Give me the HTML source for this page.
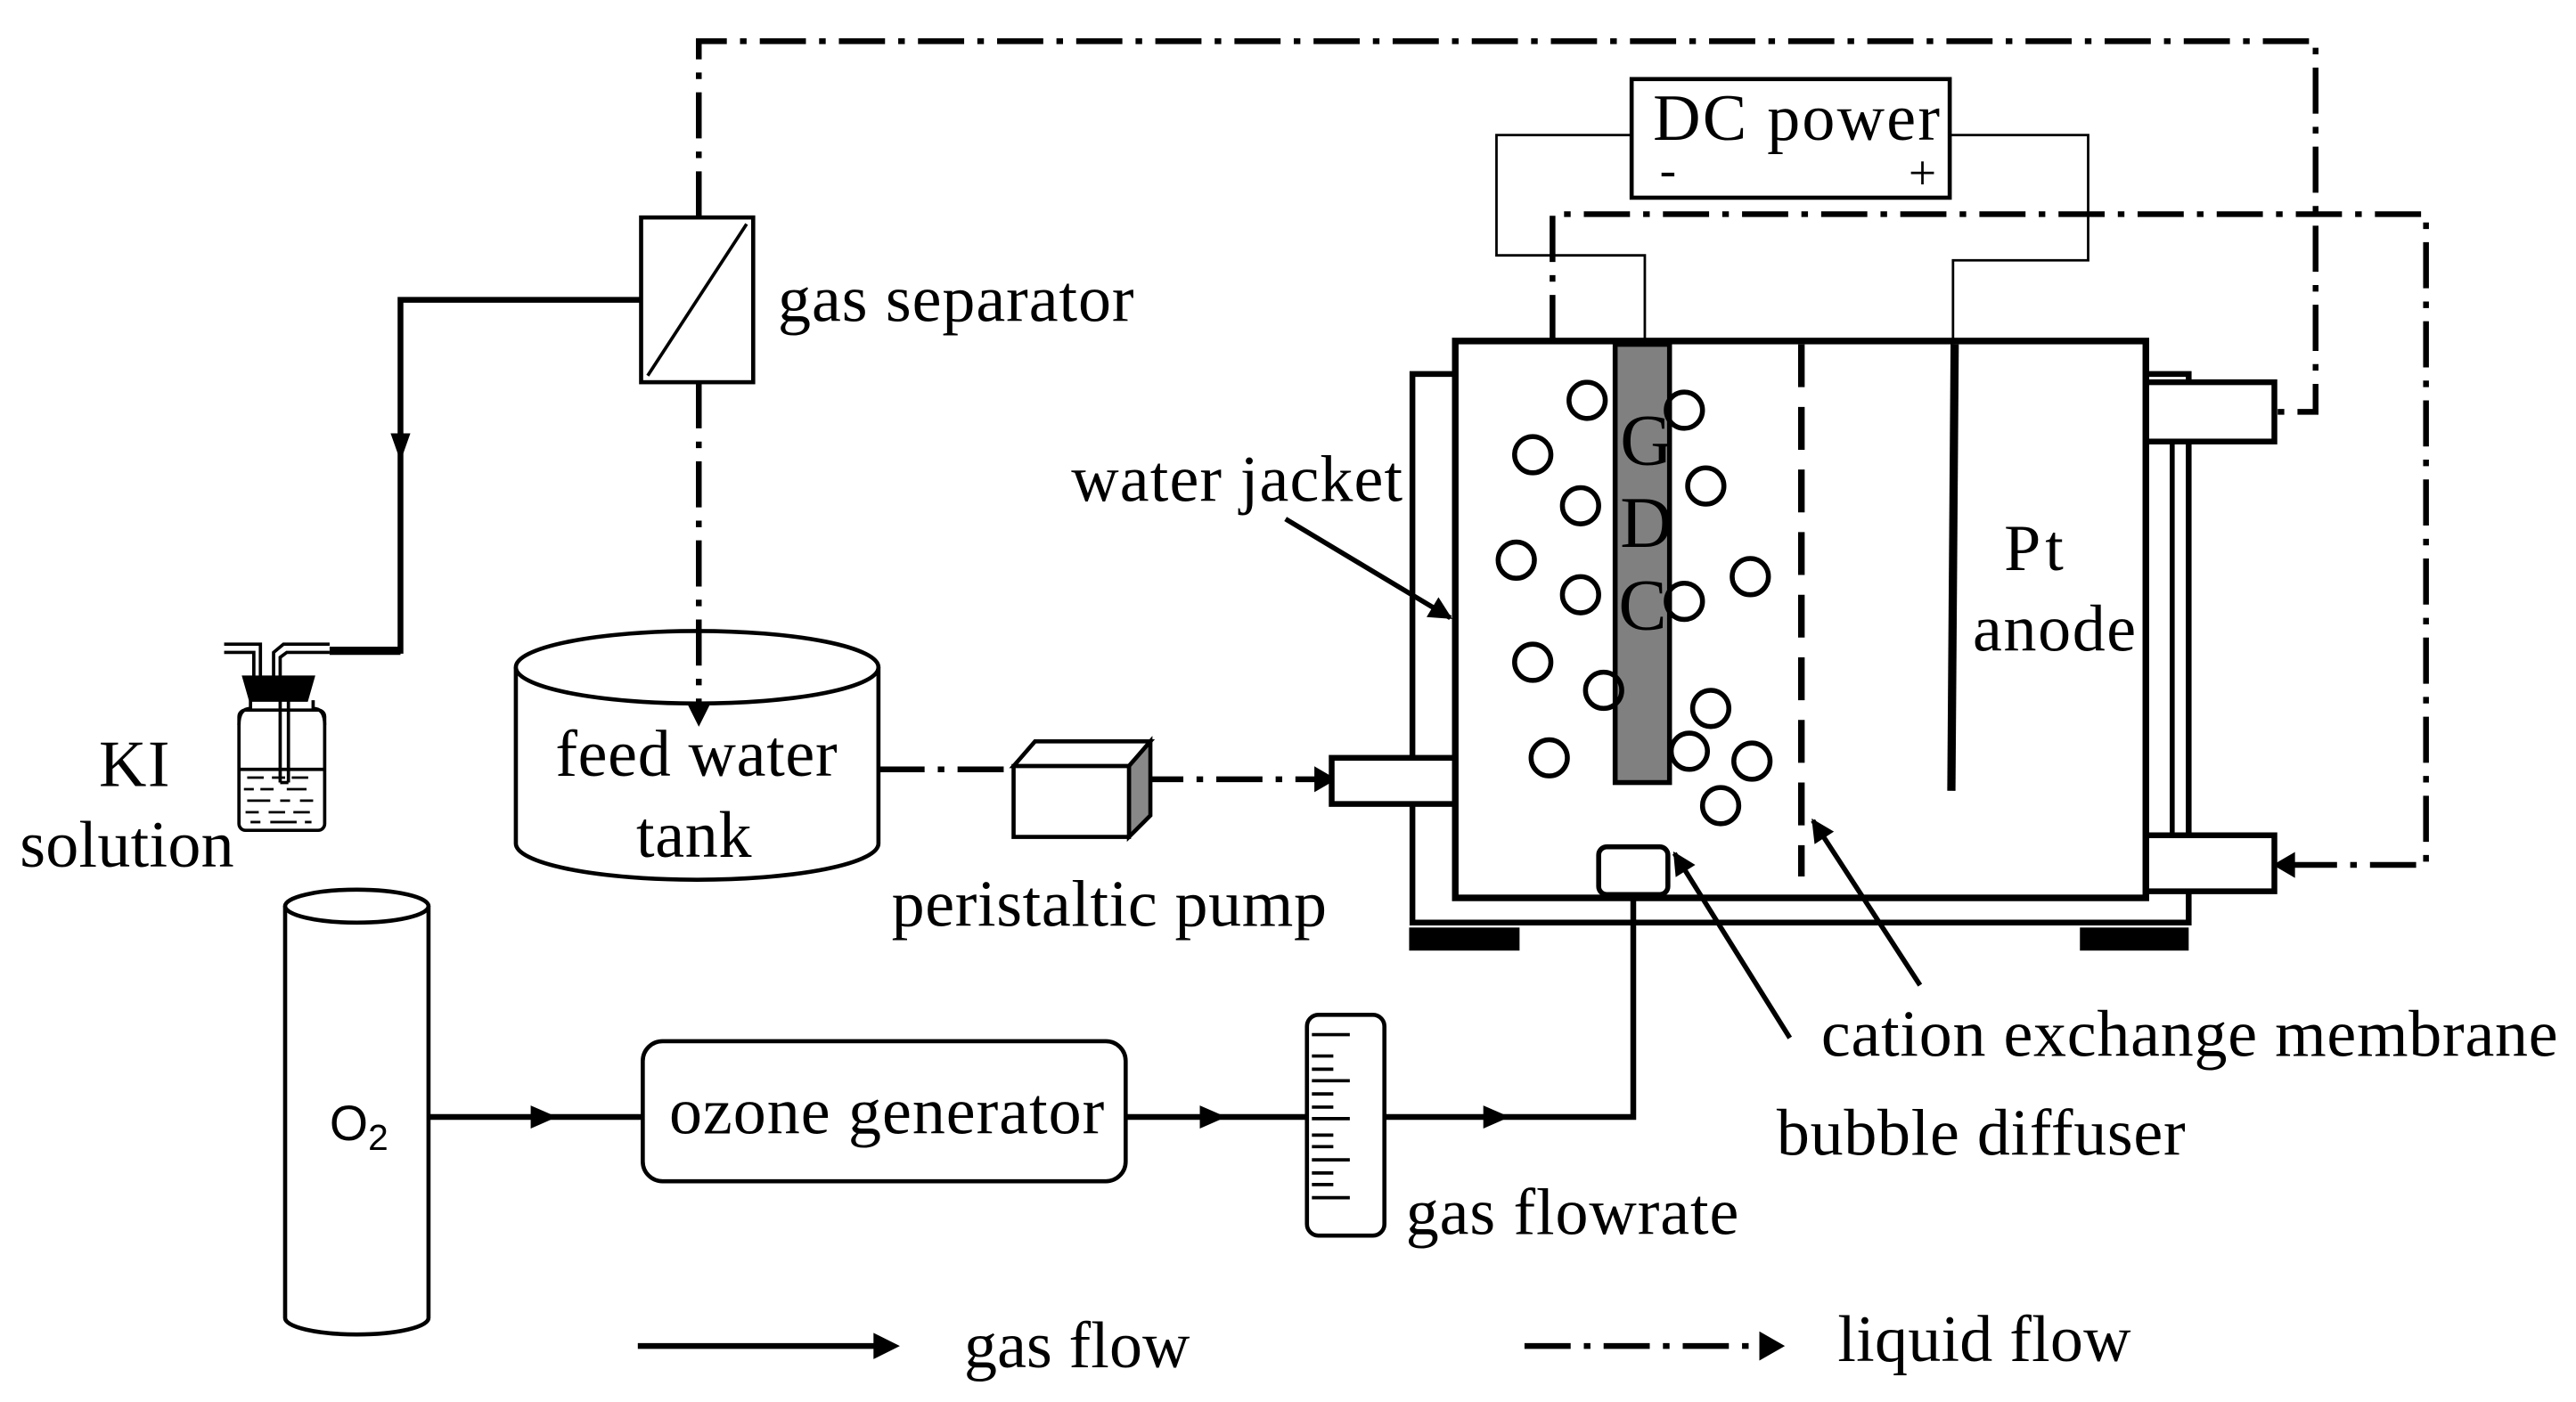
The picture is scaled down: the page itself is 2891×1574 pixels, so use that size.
<!DOCTYPE html>
<html><head><meta charset="utf-8"><style>html,body{margin:0;padding:0;background:#fff}svg{display:block}</style></head>
<body>
<svg width="2891" height="1574" viewBox="0 0 1563 851" preserveAspectRatio="none" xmlns="http://www.w3.org/2000/svg" font-family="Liberation Serif, serif" font-size="40">
<defs>
<marker id="a" viewBox="0 0 10 10" refX="9" refY="5" markerWidth="16" markerHeight="14" orient="auto" markerUnits="userSpaceOnUse"><path d="M0,0 L10,5 L0,10z"/></marker>
</defs>
<rect width="1563" height="851" fill="#fff"/>
<!-- tank -->
<g fill="#fff" stroke="#000" stroke-width="2.5">
<path d="M313,405 V512 A110,22 0 0 0 533,512 V405"/>
<ellipse cx="423" cy="405" rx="110" ry="22"/>
</g>
<g fill="none" stroke="#000" stroke-width="3.5" stroke-dasharray="28,8,4,8">
<path d="M424,132 V25 H1405 V250 H1380"/>
<path d="M424,232 V430"/>
<path d="M533,467 H615"/>
<path d="M690,473 H798"/>
<path d="M942,207 V130 H1472 V525 H1390"/>
<path d="M925,817 H1070"/>
</g>
<g stroke="#000" fill="#000">
<path d="M418,428 L430,428 L424,440z"/>
<path d="M798,466 L810,473 L798,480z"/>
<path d="M1380,525 L1392,518 L1392,532z"/>
<path d="M1068,809 L1082,817 L1068,825z"/>
</g>
<g fill="none" stroke="#000" stroke-width="3.5">
<rect x="389" y="132" width="68" height="100" stroke-width="2.5" fill="#fff"/>
<path d="M389,182 H243 V395 H225"/>
<path d="M260,678 H390"/>
<path d="M683,678 H793"/>
<path d="M840,678 H991 V545"/>
<path d="M387,817 H535"/>
</g>
<path d="M393,228 L453,136" stroke="#000" stroke-width="2"/>
<g fill="#000">
<path d="M237,263 L249,263 L243,280z"/>
<path d="M322,671 L338,678 L322,685z"/>
<path d="M728,671 L744,678 L728,685z"/>
<path d="M900,671 L916,678 L900,685z"/>
<path d="M530,809 L546,817 L530,825z"/>
</g>
<!-- KI bottle -->
<g fill="none" stroke="#000" stroke-width="2">
<path d="M200,395 H243" stroke-width="5"/>
<path d="M136,391 H158 V411 M136,396 H154 V411"/>
<path d="M166,411 V396 L172,391 H200 M170,411 V399 L174,396 H200"/>
<path d="M148,411 H190 L186,425 H152z" fill="#000"/>
<rect x="145" y="431" width="52" height="73" rx="4"/>
<path d="M145,440 Q145,430 152,430 V425 M197,440 Q197,430 190,430 V425"/>
<path d="M170,425 V475 M175,425 V475 M170,475 H175"/>
<path d="M145,467 H197"/>
<path d="M150,472h10m5 0h8m4 0h10 M148,479h6m4 0h8m8 0h12 M150,486h14m6 0h6m6 0h8 M149,493h8m6 0h10m5 0h10 M152,499h6m6 0h16m5 0h4" stroke-width="1.5"/>
</g>
<!-- pump -->
<g stroke="#000" stroke-width="2.5">
<path d="M615,465 L628,450 H698 L685,465z" fill="#fff"/>
<path d="M685,465 L698,450 V495 L685,508z" fill="#888"/>
<rect x="615" y="465" width="70" height="43" fill="#fff"/>
</g>
<!-- cell -->
<g fill="none" stroke="#000">
<path d="M883,227 H857 V560 H1328 V227 H1302" stroke-width="3.5"/>
<path d="M1318,268 V507" stroke-width="3"/>
<rect x="808" y="460" width="75" height="28" stroke-width="3.5" fill="#fff"/>
<rect x="1302" y="232" width="78" height="36" stroke-width="3.5" fill="#fff"/>
<rect x="1302" y="507" width="78" height="34" stroke-width="3.5" fill="#fff"/>
<rect x="883" y="207" width="419" height="338" stroke-width="4" fill="#fff"/>
</g>
<rect x="855" y="563" width="67" height="14" fill="#000"/>
<rect x="1262" y="563" width="66" height="14" fill="#000"/>
<rect x="980" y="209" width="33" height="266" fill="#808080" stroke="#000" stroke-width="3"/>
<path d="M1093,209 V532" stroke="#000" stroke-width="4" stroke-dasharray="26,12"/>
<path d="M1186,209 L1184,480" stroke="#000" stroke-width="5"/>
<g fill="none" stroke="#000" stroke-width="3">
<circle cx="963" cy="243" r="11"/><circle cx="1022" cy="249" r="11"/><circle cx="930" cy="276" r="11"/><circle cx="1035" cy="295" r="11"/><circle cx="959" cy="307" r="11"/><circle cx="920" cy="340" r="11"/><circle cx="1062" cy="350" r="11"/><circle cx="959" cy="361" r="11"/><circle cx="1022" cy="365" r="11"/><circle cx="930" cy="402" r="11"/><circle cx="973" cy="419" r="11"/><circle cx="1038" cy="430" r="11"/><circle cx="940" cy="460" r="11"/><circle cx="1025" cy="456" r="11"/><circle cx="1063" cy="462" r="11"/><circle cx="1044" cy="489" r="11"/>
<rect x="970" y="514" width="42" height="29" rx="5" fill="#fff"/>
</g>
<!-- DC power -->
<g fill="none" stroke="#000" stroke-width="1.5">
<path d="M990,82 H908 V155 H998 V207"/>
<path d="M1183,82 H1267 V158 H1185 V207"/>
</g>
<rect x="990" y="48" width="193" height="72" fill="#fff" stroke="#000" stroke-width="2.5"/>
<!-- arrows -->
<g stroke="#000" stroke-width="3" marker-end="url(#a)">
<line x1="780" y1="315" x2="880" y2="375"/>
<line x1="1165" y1="598" x2="1100" y2="498"/>
<line x1="1086" y1="630" x2="1016" y2="518"/>
</g>
<!-- O2 cylinder -->
<g fill="#fff" stroke="#000" stroke-width="2.5">
<path d="M173,550 V800 A43.5,10 0 0 0 260,800 V550"/>
<ellipse cx="216.5" cy="550" rx="43.5" ry="10"/>
<rect x="390" y="632" width="293" height="85" rx="12"/>
<rect x="793" y="616" width="47" height="134" rx="7"/>
</g>
<g stroke="#000" stroke-width="2">
<path d="M796,628h23 M796,641h13 M796,649h13 M796,656h23 M796,664h13 M796,672h13 M796,679h23 M796,689h13 M796,696h13 M796,704h23 M796,712h13 M796,719h13 M796,727h23"/>
</g>
<!-- text -->
<g fill="#000">
<text x="472" y="195" textLength="216">gas separator</text>
<text x="60" y="477" textLength="43">KI</text>
<text x="12" y="526" textLength="130">solution</text>
<text x="337" y="471" textLength="171">feed water</text>
<text x="386" y="520" textLength="70">tank</text>
<text x="541" y="562" textLength="264">peristaltic pump</text>
<text x="650" y="304" textLength="201">water jacket</text>
<text x="1003" y="85" textLength="174">DC power</text>
<text x="1007" y="113" font-size="30">-</text>
<text x="1158" y="115" font-size="30">+</text>
<text x="983" y="282" font-size="44">G</text>
<text x="983" y="332" font-size="44">D</text>
<text x="982" y="382" font-size="44">C</text>
<text x="1216" y="346" textLength="36">Pt</text>
<text x="1197" y="395" textLength="99">anode</text>
<text x="1105" y="641" textLength="447">cation exchange membrane</text>
<text x="1078" y="701" textLength="248">bubble diffuser</text>
<text x="853" y="749" textLength="202">gas flowrate</text>
<text x="406" y="688" textLength="264">ozone generator</text>
<text x="200" y="692" font-family="Liberation Sans, sans-serif" font-size="30">O<tspan font-size="22" dy="6">2</tspan></text>
<text x="585" y="830" textLength="137">gas flow</text>
<text x="1115" y="826" textLength="178">liquid flow</text>
</g>
</svg>
</body></html>
